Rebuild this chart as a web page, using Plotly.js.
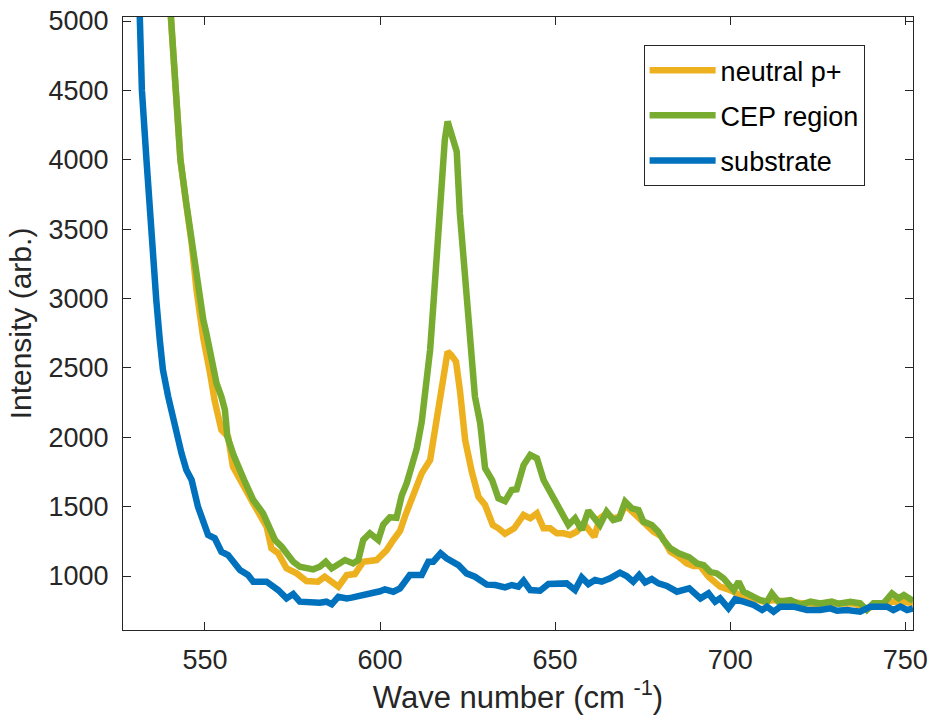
<!DOCTYPE html>
<html>
<head>
<meta charset="utf-8">
<script src="https://cdn.plot.ly/plotly-3.0.1.min.js"></script>
<style>
html,body{margin:0;padding:0;background:#fff;}
#chart{width:933px;height:725px;}
</style>
</head>
<body>
<div id="chart"></div>
<script>
// Series names
const seriesNames = ['neutral p+', 'CEP region', 'substrate'];

// neutral p+ (wave number, intensity)
const neutralWave = [
  539.0,540.4,541.9,543.0,544.6,546.2,547.6,549.5,551.4,552.8,
  554.7,555.7,556.6,558.0,561.4,563.8,567.6,569.0,570.9,573.3,
  576.2,579.0,582.3,584.2,588.1,590.5,592.8,595.2,599.0,601.9,
  603.8,605.7,607.1,609.5,611.9,614.3,615.7,617.1,618.1,619.3,
  620.4,621.7,622.8,624.3,626.2,628.1,630.0,632.2,633.8,635.7,
  638.3,641.0,642.9,644.8,646.7,648.6,650.5,652.4,654.3,656.2,
  658.1,661.2,662.8,664.7,666.6,668.5,670.0,671.9,673.8,675.7,
  678.1,680.5,682.9,685.3,687.6,689.5,691.4,693.8,697.1,700.0,
  702.8,706.7,709.5,712.4,716.2,721.0,725.7,730.5,735.2,739.0,
  742.8,746.6,749.6,752.2
];
const neutralInt = [
  5500,5030,4505,4000,3690,3400,3060,2720,2470,2260,
  2053,2030,2005,1788,1620,1524,1356,1200,1164,1055,
  1019,964,959,995,923,1007,1014,1103,1115,1187,
  1260,1325,1428,1572,1740,1836,2053,2269,2437,2617,
  2590,2545,2341,1981,1752,1572,1512,1368,1344,1305,
  1344,1440,1416,1452,1344,1344,1308,1308,1296,1320,
  1380,1283,1416,1452,1416,1428,1512,1464,1428,1368,
  1320,1283,1175,1139,1091,1072,1072,995,923,899,
  863,839,815,827,815,803,798,803,803,767,
  791,815,815,803
];

// CEP region
const cepWave = [
  539.0,540.4,541.9,543.0,544.6,546.2,547.6,549.5,550.4,551.4,
  553.3,554.7,555.7,556.4,558.2,561.4,563.8,566.6,568.0,570.0,
  571.9,575.2,577.1,579.0,580.9,582.8,584.5,586.2,590.0,592.3,
  593.8,595.2,597.1,599.5,600.9,602.8,604.7,606.2,607.6,609.0,
  610.5,611.9,613.3,614.3,615.2,616.6,617.6,618.5,619.3,620.5,
  621.9,622.8,624.3,625.7,627.1,628.6,630.0,632.0,633.8,635.7,
  637.6,639.0,641.0,642.9,644.8,646.7,649.1,651.4,653.8,655.7,
  657.6,659.5,661.4,662.8,664.7,666.6,668.3,670.0,671.9,673.8,
  675.2,677.6,679.5,680.9,682.9,685.3,688.3,690.5,692.4,694.3,
  696.2,698.1,701.0,702.4,703.8,705.7,708.5,710.5,711.9,713.8,
  717.2,720.0,722.9,725.7,729.0,731.0,734.3,737.1,739.0,740.9,
  743.8,746.2,748.1,749.6,752.2
];
const cepInt = [
  5520,5030,4505,4000,3700,3420,3111,2850,2750,2606,
  2390,2293,2197,2005,1870,1680,1548,1452,1380,1260,
  1211,1103,1067,1063,1048,1067,1103,1055,1115,1091,
  1115,1260,1308,1260,1370,1423,1420,1580,1668,1788,
  1920,2110,2365,2630,2942,3471,3832,4144,4276,4180,
  4060,3615,3158,2702,2293,2101,1777,1692,1560,1540,
  1620,1625,1800,1873,1849,1692,1584,1476,1368,1416,
  1332,1471,1416,1368,1464,1404,1416,1536,1488,1476,
  1392,1368,1320,1260,1200,1164,1135,1091,1079,1030,
  1019,983,899,959,887,863,827,815,875,815,
  827,791,815,803,815,800,815,803,755,803,
  803,875,839,863,822
];

// substrate
const subWave = [
  530.8,531.4,532.0,533.3,534.7,536.1,537.1,538.0,539.5,541.4,
  543.3,544.7,546.2,548.0,550.9,552.8,554.7,556.6,560.0,562.3,
  563.8,567.6,570.9,573.3,575.2,577.1,580.0,582.8,584.7,586.2,
  588.1,590.5,591.9,593.3,594.7,596.7,598.1,600.0,601.4,603.8,
  605.7,608.5,611.9,613.8,615.2,617.3,619.0,622.4,624.7,627.1,
  630.5,632.9,635.7,637.6,639.5,641.0,642.9,645.7,648.1,650.5,
  653.3,655.7,657.6,659.5,661.4,663.3,665.7,668.5,670.4,672.3,
  674.0,675.7,677.6,679.5,681.9,684.8,688.3,691.5,693.8,695.7,
  697.1,699.5,701.4,703.8,706.7,709.1,710.5,712.4,714.3,718.1,
  721.9,725.7,728.6,730.5,733.4,737.1,740.0,744.8,746.6,748.6,
  750.5,752.2
];
const subInt = [
  5550,5030,4500,4000,3400,2990,2702,2486,2293,2077,
  1885,1764,1692,1500,1296,1272,1175,1151,1043,1007,
  959,959,899,839,870,815,808,808,815,796,
  851,839,844,851,863,863,875,890,904,887,
  911,1007,1007,1103,1103,1164,1128,1079,1019,995,
  938,935,918,935,923,966,899,894,942,947,
  947,899,990,942,971,959,983,1024,1000,959,
  1007,954,978,947,928,887,911,839,875,815,
  839,767,832,815,791,755,779,743,779,779,
  755,755,767,750,755,743,779,779,755,779,
  755,767
];

const colors = ['#EDB120', '#77AC30', '#0072BD'];
const FONT = '"Liberation Sans", Arial, Helvetica, sans-serif';
const AXC = '#262626';

const waves = [neutralWave, cepWave, subWave];
const ints = [neutralInt, cepInt, subInt];

const traces = seriesNames.map((name, i) => ({
  type: 'scatter',
  mode: 'lines',
  name: name,
  x: waves[i],
  y: ints[i],
  legendgroup: 'g' + i,
  line: {color: colors[i], width: 6.5}
}));

const layout = {
  width: 933,
  height: 725,
  margin: {l: 123, r: 20, t: 17, b: 95, pad: 0},
  paper_bgcolor: '#ffffff',
  plot_bgcolor: '#ffffff',
  font: {family: FONT, color: AXC, size: 27},
  showlegend: true,
  legend: {
    x: 0.659, y: 0.954, xanchor: 'left', yanchor: 'top',
    bgcolor: '#ffffff',
    bordercolor: AXC, borderwidth: 1,
    font: {family: FONT, size: 27, color: '#000000'},
    tracegroupgap: 7,
    itemwidth: 66
  },
  xaxis: {
    range: [526.6, 752.2],
    dtick: 50, tick0: 550,
    ticks: 'inside', ticklen: 8, tickwidth: 1, tickcolor: AXC,
    showline: true, linecolor: AXC, linewidth: 1, mirror: 'ticks',
    showgrid: false, zeroline: false,
    tickfont: {family: FONT, size: 27, color: AXC},
    ticklabelstandoff: 6,
    title: {text: 'Wave number (cm <sup>-1</sup>)', font: {family: FONT, size: 31, color: AXC}, standoff: 8}
  },
  yaxis: {
    range: [611, 5029],
    dtick: 500, tick0: 1000,
    ticks: 'inside', ticklen: 8, tickwidth: 1, tickcolor: AXC,
    showline: true, linecolor: AXC, linewidth: 1, mirror: 'ticks',
    showgrid: false, zeroline: false,
    tickfont: {family: FONT, size: 27, color: AXC},
    ticklabelstandoff: 8,
    title: {text: 'Intensity (arb.)', font: {family: FONT, size: 30, color: AXC}, standoff: 8}
  }
};

Plotly.newPlot('chart', traces, layout, {displayModeBar: false, staticPlot: true});
</script>
</body>
</html>
